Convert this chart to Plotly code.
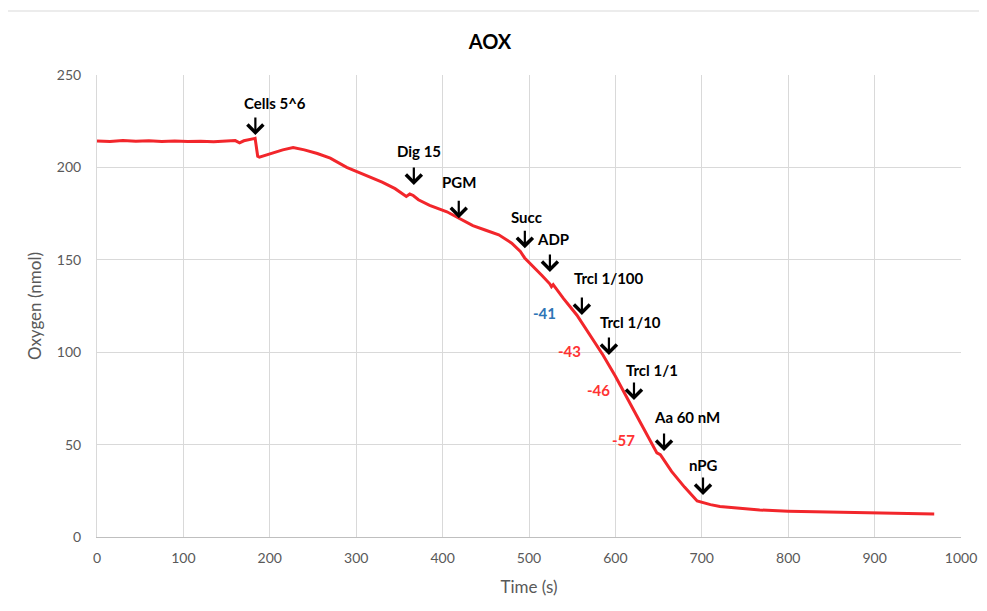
import plotly.graph_objects as go

# ---- data ----
time_s = [0, 15, 30, 45, 60, 75, 90, 105, 120, 135, 150, 160, 165, 170, 183,
          184.5, 186, 188, 195, 205, 215, 227, 240, 255, 270, 289, 310, 330,
          345, 358, 362, 366, 372, 385, 405, 420, 435, 450, 465, 480, 490,
          495, 505, 515, 524, 526, 528, 540, 555.5, 570, 585.6, 600, 614.6,
          630, 648, 652, 665, 680, 694.6, 700, 710, 721, 740, 767, 800, 850,
          900, 940, 969]
oxygen = [214.3, 214.0, 214.5, 214.1, 214.4, 214.0, 214.3, 214.0, 214.2,
          213.9, 214.3, 214.5, 213.3, 214.4, 215.7, 209.0, 206.0, 205.5,
          206.5, 208.0, 209.5, 210.7, 209.5, 207.5, 205.0, 200.0, 196.0,
          192.0, 188.5, 184.3, 185.6, 184.8, 182.5, 179.5, 176.0, 172.3,
          168.5, 166.0, 163.5, 159.0, 154.5, 151.0, 146.5, 141.5, 137.0,
          135.5, 136.6, 129.0, 120.0, 109.5, 98.5, 87.0, 74.0, 61.0, 45.5,
          44.5, 35.5, 27.0, 19.5, 18.7, 17.5, 16.5, 15.6, 14.6, 14.0, 13.5,
          13.1, 12.8, 12.5]

event_labels = ["Cells 5^6", "Dig 15", "PGM", "Succ", "ADP", "Trcl 1/100",
                "Trcl 1/10", "Trcl 1/1", "Aa 60 nM", "nPG"]
event_tip_t = [183.3, 366.7, 418.7, 495.2, 524.2, 561.2, 592.5, 621.5, 656.3, 701.4]
event_tip_o2 = [217.5, 190.5, 172.5, 156.3, 143.4, 120.1, 98.5, 74.1, 46.5, 22.7]
event_text_t = [205.6, 372.5, 418.8, 497.5, 527.7, 592.6, 616.9, 642.4, 683.0, 701.4]
event_text_o2 = [235.0, 208.9, 192.1, 173.2, 161.3, 140.2, 116.3, 90.4, 64.9, 39.0]

rate_labels = ["-41", "-43", "-46", "-57"]
rate_t = [518.4, 547.4, 581.0, 608.8]
rate_o2 = [121.2, 100.6, 79.5, 52.5]
rate_colors = ["#2e75b6", "#ff3333", "#ff3333", "#ff3333"]

FONT = "Lato"
GRAY = "#595959"

fig = go.Figure()
fig.add_trace(go.Scatter(x=time_s, y=oxygen, mode="lines",
                         line=dict(color="#f2262b", width=3),
                         showlegend=False, hoverinfo="skip"))

annotations = []
for lab, tx, ty, xx, yy in zip(event_labels, event_text_t, event_text_o2,
                               event_tip_t, event_tip_o2):
    annotations.append(dict(x=tx, y=ty, xref="x", yref="y", text=lab,
                            showarrow=False,
                            font=dict(family=FONT, size=15, color="black",
                                      weight="bold")))
    annotations.append(dict(x=xx, y=yy, xref="x", yref="y", text="",
                            showarrow=True, ax=0, ay=-19, axref="pixel",
                            arrowhead=4, arrowsize=1.4, arrowwidth=2.2,
                            arrowcolor="black", standoff=0))
for lab, tx, ty, c in zip(rate_labels, rate_t, rate_o2, rate_colors):
    annotations.append(dict(x=tx, y=ty, xref="x", yref="y", text=lab,
                            showarrow=False,
                            font=dict(family=FONT, size=15, color=c,
                                      weight="bold")))

# outer chart border (top and left edges visible in the reference)
shapes = [
    dict(type="line", xref="paper", yref="paper", x0=-0.1048, x1=1.04,
         y0=1.1385, y1=1.1385, line=dict(color="#d9d9d9", width=1)),
    dict(type="line", xref="paper", yref="paper", x0=-0.1048, x1=-0.1048,
         y0=-0.2, y1=1.1385, line=dict(color="#d9d9d9", width=1)),
]

fig.update_layout(
    width=979, height=603,
    margin=dict(l=89, r=26, t=67, b=74, autoexpand=False),
    paper_bgcolor="white", plot_bgcolor="white",
    font=dict(family=FONT, color=GRAY),
    title=dict(text="<b>AOX</b>", x=(490 - 8) / 979, xref="container",
               xanchor="center",
               y=1 - (42 - 8) / 603, yref="container", yanchor="middle",
               font=dict(family=FONT, size=20, color="black")),
    xaxis=dict(range=[0, 1000], dtick=100, tick0=0, showgrid=True,
               gridcolor="#d9d9d9", gridwidth=1, zeroline=False,
               showline=True, linecolor="#bfbfbf", ticks="",
               ticklabelstandoff=8,
               tickfont=dict(family=FONT, size=14, color=GRAY),
               title=dict(text="Time (s)", standoff=16,
                          font=dict(family=FONT, size=17, color=GRAY))),
    yaxis=dict(range=[0, 250], dtick=50, tick0=0, showgrid=True,
               gridcolor="#d9d9d9", gridwidth=1, zeroline=False,
               showline=True, linecolor="#d9d9d9", ticks="",
               ticklabelstandoff=12,
               tickfont=dict(family=FONT, size=14, color=GRAY),
               title=dict(text="Oxygen (nmol)", standoff=10,
                          font=dict(family=FONT, size=17, color=GRAY))),
    annotations=annotations,
    shapes=shapes,
)

fig.write_html("out.html")
